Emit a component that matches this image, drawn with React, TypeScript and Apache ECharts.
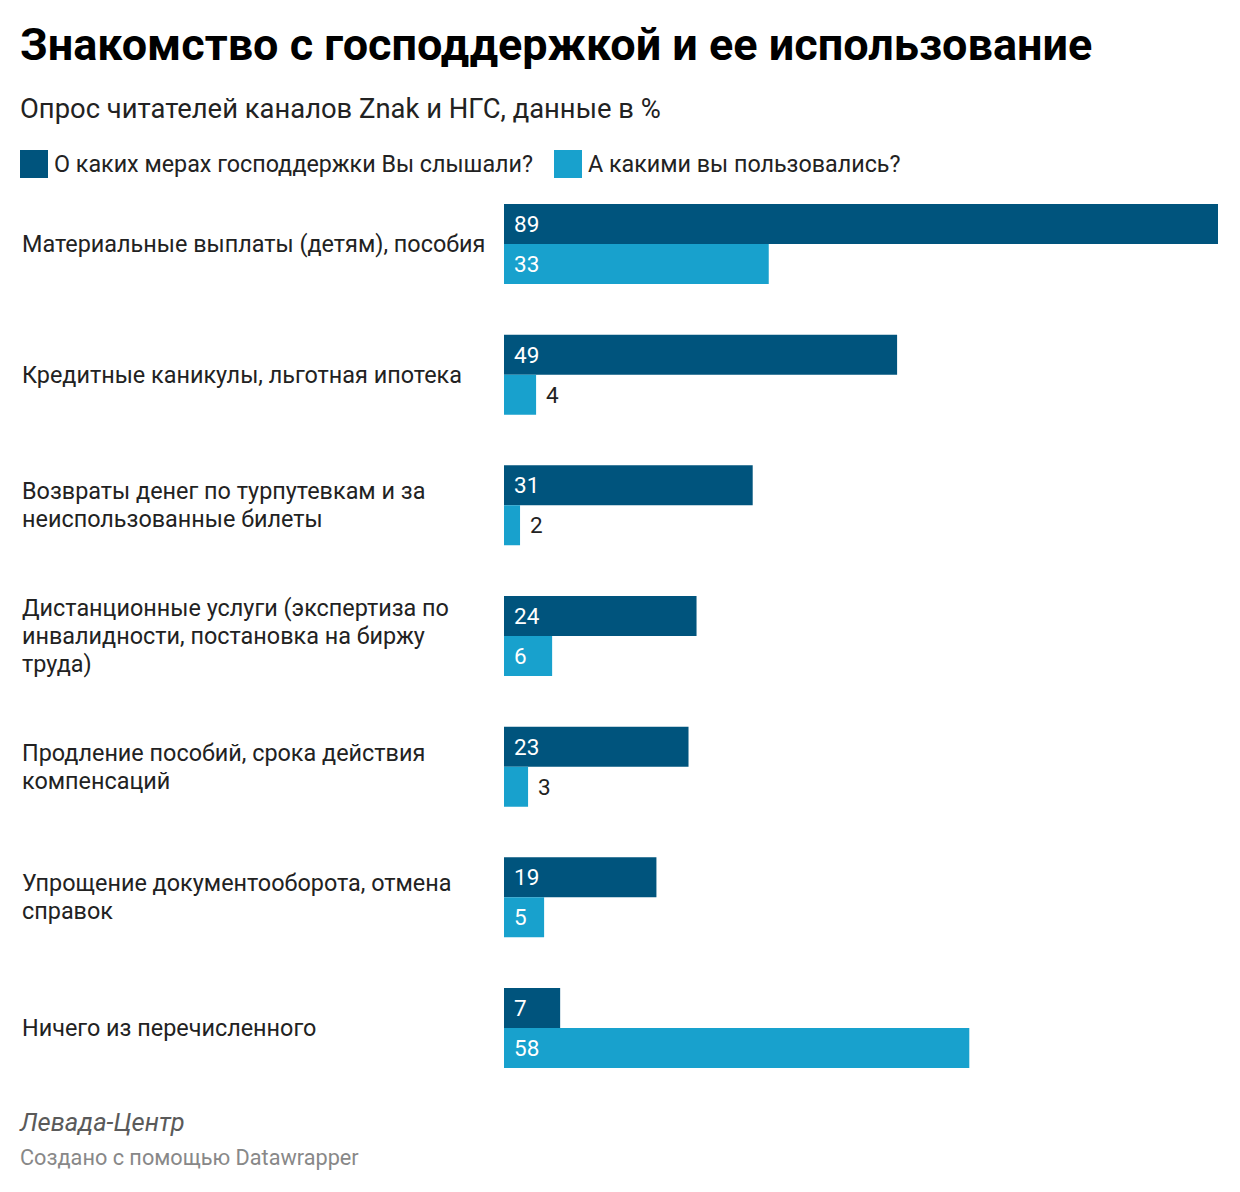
import React, { useEffect, useRef } from "react";
import * as echarts from "echarts";

const categories = [
  "Материальные выплаты (детям), пособия",
  "Кредитные каникулы, льготная ипотека",
  "Возвраты денег по турпутевкам и за\nнеиспользованные билеты",
  "Дистанционные услуги (экспертиза по\nинвалидности, постановка на биржу\nтруда)",
  "Продление пособий, срока действия\nкомпенсаций",
  "Упрощение документооборота, отмена\nсправок",
  "Ничего из перечисленного",
];
const seriesNames = ["О каких мерах господдержки Вы слышали?", "А какими вы пользовались?"];
const heard = [89, 49, 31, 24, 23, 19, 7];
const used = [33, 4, 2, 6, 3, 5, 58];

const COLORS = ["#00547d", "#18a1cd"];
const FONT = "Roboto";

function toData(vals: number[]) {
  return vals.map((v) => ({
    value: v,
    label:
      v >= 5
        ? { position: "insideLeft", distance: 10, color: "#ffffff" }
        : { position: "right", distance: 10, color: "#222222" },
  }));
}

export default function App() {
  const ref = useRef<HTMLDivElement>(null);
  useEffect(() => {
    const chart = echarts.init(ref.current!, undefined, { renderer: "svg" });
    const labelBase = { show: true, fontSize: 22.5, fontFamily: FONT };
    chart.setOption({
      animation: false,
      backgroundColor: "#ffffff",
      title: [
        {
          text: "Знакомство с господдержкой и ее использование",
          left: 20,
          top: 22,
          padding: 0,
          textStyle: { fontFamily: FONT, fontWeight: "bold", fontSize: 45, color: "#000000" },
        },
        {
          text: "Опрос читателей каналов Znak и НГС, данные в %",
          left: 20,
          top: 95,
          padding: 0,
          textStyle: { fontFamily: FONT, fontWeight: "normal", fontSize: 27.4, color: "#222222" },
        },
        {
          text: "Левада-Центр",
          left: 20,
          top: 1109,
          padding: 0,
          textStyle: { fontFamily: FONT, fontStyle: "italic", fontWeight: "normal", fontSize: 25.5, color: "#5a5a5a" },
        },
        {
          text: "Создано с помощью Datawrapper",
          left: 20,
          top: 1146,
          padding: 0,
          textStyle: { fontFamily: FONT, fontWeight: "normal", fontSize: 21.7, color: "#888888" },
        },
      ],
      legend: {
        left: 20,
        top: 150,
        padding: 0,
        itemWidth: 28,
        itemHeight: 28,
        itemGap: 21,
        icon: "rect",
        textStyle: { fontFamily: FONT, fontSize: 23.3, color: "#222222", padding: [0, 0, 0, 1] },
        data: seriesNames,
      },
      grid: { left: 504, right: 22, top: 178.7, bottom: 1192 - 1093.3, containLabel: false },
      xAxis: {
        type: "value",
        min: 0,
        max: 89,
        show: false,
      },
      yAxis: {
        type: "category",
        inverse: true,
        data: categories,
        axisLine: { show: false },
        axisTick: { show: false },
        splitLine: { show: false },
        axisLabel: {
          align: "left",
          margin: 482,
          fontFamily: FONT,
          fontSize: 23.4,
          lineHeight: 28,
          color: "#222222",
        },
      },
      series: [
        {
          name: seriesNames[0],
          type: "bar",
          data: toData(heard),
          barWidth: 40,
          barGap: "0%",
          itemStyle: { color: COLORS[0] },
          label: labelBase,
        },
        {
          name: seriesNames[1],
          type: "bar",
          data: toData(used),
          barWidth: 40,
          barGap: "0%",
          itemStyle: { color: COLORS[1] },
          label: labelBase,
        },
      ],
    });
    return () => chart.dispose();
  }, []);
  return (
    <div
      ref={ref}
      style={{ position: "absolute", left: 0, top: 0, width: 1240, height: 1192, background: "#fff" }}
    />
  );
}
